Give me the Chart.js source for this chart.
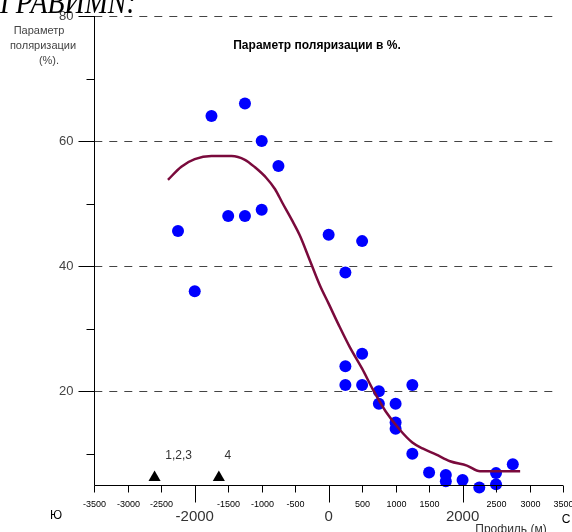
<!DOCTYPE html>
<html>
<head>
<meta charset="utf-8">
<script src="https://cdn.jsdelivr.net/npm/chart.js@4"></script>
<style>
  body { margin: 0; background: #fff; }
  #wrap { width: 572px; height: 532px; }
</style>
</head>
<body>
<div id="wrap"><canvas id="c" width="572" height="532"></canvas></div>
<script>
// измерения (точки)
const pointX = [-2250, -2000, -1750, -1500, -1250, -1250, -1000, -1000, -750,
  0, 250, 500, 250, 500, 250, 500, 750, 750, 1000, 1000, 1000, 1250, 1250,
  1500, 1750, 1750, 2000, 2250, 2500, 2500, 2750];
const pointY = [45.6, 36, 64, 48, 66, 48, 60, 49, 56,
  45, 39, 44, 24, 26, 21, 21, 20, 18, 18, 15, 14, 21, 10,
  7, 6.6, 5.6, 5.8, 4.6, 6.9, 5.1, 8.3];

// сглаженная кривая
const curveX = [-2400, -2200, -2000, -1750, -1450, -1250, -1100, -930, -800, -690,
  -550, -430, -280, -130, 0, 150, 318, 500, 664, 850, 1066, 1250, 1410, 1600,
  1813, 2065, 2260, 2860];
const curveY = [53.8, 55.9, 57.1, 57.6, 57.6, 57.0, 55.8, 54.1, 52.3, 50.1,
  47.4, 44.9, 40.9, 36.9, 34, 30.6, 27, 23.6, 20.2, 16.8, 13.8, 11.8, 10.8, 9.9,
  8.8, 8.1, 7.2, 7.2];

// пикеты
const markerX = [-2600, -1640];
const markerLabels = ['1,2,3', '4'];

// оси
const xTicks = [-3500, -3000, -2500, -2000, -1500, -1000, -500, 0, 500, 1000, 1500, 2000, 2500, 3000, 3500];
const xBigTicks = [-2000, 0, 2000];
const yTicks = [10, 20, 30, 40, 50, 60, 70, 80];
const yLabels = [20, 40, 60, 80];

const toXY = (xs, ys) => xs.map((x, i) => ({ x: x, y: ys[i] }));

const decor = {
  id: 'decor',
  beforeDatasetsDraw(chart) {
    const { ctx, scales: { x, y } } = chart;
    const x0 = x.getPixelForValue(-3500);
    ctx.save();
    // пунктирная сетка
    ctx.strokeStyle = '#444';
    ctx.lineWidth = 1;
    ctx.setLineDash([8, 7]);
    yLabels.forEach(v => {
      const py = Math.round(y.getPixelForValue(v)) + 0.5;
      ctx.beginPath();
      ctx.moveTo(x0, py);
      ctx.lineTo(x.getPixelForValue(3420), py);
      ctx.stroke();
    });
    ctx.restore();
  },
  afterDraw(chart) {
    const { ctx, scales: { x, y } } = chart;
    const x0 = Math.round(x.getPixelForValue(-3500)) + 0.5;
    const yb = Math.round(y.getPixelForValue(5)) + 0.5;
    ctx.save();
    ctx.strokeStyle = '#000';
    ctx.lineWidth = 1;
    // оси
    ctx.beginPath();
    ctx.moveTo(x0, y.getPixelForValue(80));
    ctx.lineTo(x0, yb);
    ctx.lineTo(x.getPixelForValue(3500), yb);
    ctx.stroke();

    // деления Y
    ctx.fillStyle = '#444';
    ctx.font = '13px Arial, "Liberation Sans"';
    ctx.textAlign = 'right';
    ctx.textBaseline = 'middle';
    yTicks.forEach(v => {
      const py = Math.round(y.getPixelForValue(v)) + 0.5;
      const big = yLabels.includes(v);
      ctx.beginPath();
      ctx.moveTo(x0 - (big ? 16 : 8), py);
      ctx.lineTo(x0, py);
      ctx.stroke();
      if (big) ctx.fillText(String(v), x0 - 21, py);
    });

    // деления X
    ctx.textAlign = 'center';
    xTicks.forEach(v => {
      const px = Math.round(x.getPixelForValue(v)) + 0.5;
      const big = xBigTicks.includes(v);
      ctx.beginPath();
      ctx.moveTo(px, yb);
      ctx.lineTo(px, yb + (big ? 17 : 7));
      ctx.stroke();
      if (!big) {
        ctx.fillStyle = '#000';
        ctx.font = '9px Arial, "Liberation Sans"';
        ctx.fillText(String(v), px, yb + 19);
      }
    });
    ctx.fillStyle = '#333';
    ctx.font = '15px Arial, "Liberation Sans"';
    xBigTicks.forEach(v => ctx.fillText(String(v), x.getPixelForValue(v), yb + 31));

    // стороны света и подпись оси
    ctx.fillStyle = '#000';
    ctx.font = '12px Arial, "Liberation Sans"';
    ctx.fillText('Ю', 56, 516);
    ctx.fillText('С', 566, 520);
    ctx.fillStyle = '#333';
    ctx.fillText('Профиль (м)', 511, 530);

    // подписи пикетов
    ctx.font = '12px Arial, "Liberation Sans"';
    markerX.forEach((v, i) => {
      ctx.fillText(markerLabels[i], x.getPixelForValue(v) + (i === 0 ? 24 : 9), 456);
    });

    // подпись оси Y
    ctx.fillStyle = '#444';
    ctx.font = '11px Arial, "Liberation Sans"';
    ctx.fillText('Параметр', 39, 31);
    ctx.fillText('поляризации', 43, 46);
    ctx.fillText('(%).', 49, 61);

    // заголовок
    ctx.fillStyle = '#000';
    ctx.font = 'bold 12px Arial, "Liberation Sans"';
    ctx.fillText('Параметр поляризации в %.', 317, 46);

    // обрезанный текст сверху
    ctx.textAlign = 'left';
    ctx.textBaseline = 'alphabetic';
    ctx.translate(0, 13);
    ctx.scale(0.82, 1);
    ctx.font = 'italic 34px "Liberation Serif", "Times New Roman"';
    ctx.fillText('ГРАВИМN:', 0, 0);
    ctx.restore();
  }
};

new Chart(document.getElementById('c'), {
  type: 'scatter',
  data: {
    datasets: [
      {
        label: 'кривая',
        data: toXY(curveX, curveY),
        showLine: true,
        borderColor: '#7a0a3c',
        borderWidth: 2.5,
        pointRadius: 0,
        cubicInterpolationMode: 'monotone',
        clip: false
      },
      {
        label: 'точки',
        data: toXY(pointX, pointY),
        backgroundColor: '#0000ff',
        borderColor: '#0000ff',
        pointRadius: 6,
        borderWidth: 0,
        clip: false
      },
      {
        label: 'пикеты',
        data: markerX.map(v => ({ x: v, y: 6.2 })),
        pointStyle: 'triangle',
        backgroundColor: '#000',
        borderColor: '#000',
        pointRadius: 7,
        borderWidth: 0,
        clip: false
      }
    ]
  },
  options: {
    responsive: false,
    animation: false,
    layout: { padding: { left: 94.3, right: 9, top: 16, bottom: 47 } },
    scales: {
      x: { type: 'linear', min: -3500, max: 3500, display: false },
      y: { type: 'linear', min: 5, max: 80, display: false }
    },
    plugins: {
      legend: { display: false },
      tooltip: { enabled: false }
    }
  },
  plugins: [decor]
});
</script>
</body>
</html>
